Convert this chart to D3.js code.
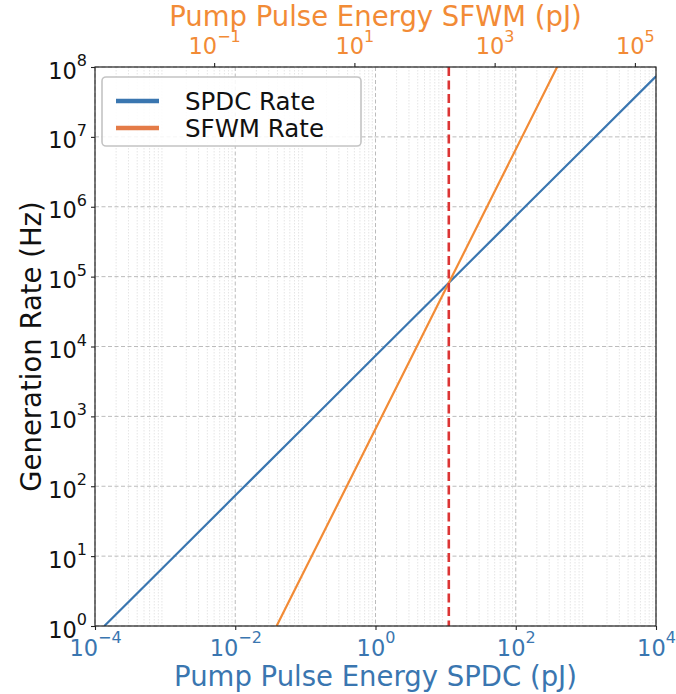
<!DOCTYPE html>
<html>
<head>
<meta charset="utf-8">
<script src="https://cdn.jsdelivr.net/npm/d3@7"></script>
<style>
  html, body { margin: 0; padding: 0; background: #ffffff; }
  svg { display: block; font-family: "DejaVu Sans", sans-serif; }
</style>
</head>
<body>
<svg id="chart" width="676" height="694"></svg>
<script>
// ---------------- data ----------------
const spdcEnergy = [1.36e-4, 1e-3, 1e-2, 1e-1, 1, 10, 100, 1000, 1e4];      // pJ (bottom axis)
const spdcRate   = [1, 7.35, 73.5, 735, 7350, 7.35e4, 7.35e5, 7.35e6, 7.35e7]; // Hz
const sfwmEnergy = [0.778, 1, 10, 100, 1000, 7780];                          // pJ (top axis)
const sfwmRate   = [1, 1.65, 165, 1.65e4, 1.65e6, 1e8];                      // Hz
const crossingEnergy = [11.1];                                               // pJ (bottom axis)
const bottomTicks = [-4, -2, 0, 2, 4];       // exponents
const topTicks    = [-1, 1, 3, 5];
const leftTicks   = [0, 1, 2, 3, 4, 5, 6, 7, 8];
const xDomain  = [1e-4, 1e4];
const x2Domain = [2e-3, 2e5];
const yDomain  = [1, 1e8];
const seriesNames = ["SPDC Rate", "SFWM Rate"];
const labels = {
  bottom: "Pump Pulse Energy SPDC (pJ)",
  top: "Pump Pulse Energy SFWM (pJ)",
  left: "Generation Rate (Hz)"
};

// ---------------- style ----------------
const BLUE = "#3a76b0", ORANGE = "#f28b36", ORANGE_LEG = "#e47b47", RED = "#dc3535";
const L = 95, R = 656, T = 67, B = 626;
const svg = d3.select("#chart");

const x  = d3.scaleLog().domain(xDomain).range([L, R]);
const x2 = d3.scaleLog().domain(x2Domain).range([L, R]);
const y  = d3.scaleLog().domain(yDomain).range([B, T]);

const minus = e => (e < 0 ? "\u2212" + Math.abs(e) : String(e));

// clip
svg.append("defs").append("clipPath").attr("id", "plotclip")
  .append("rect").attr("x", L).attr("y", T).attr("width", R - L).attr("height", B - T);

// ---------------- grid ----------------
const grid = svg.append("g");
const minorX = [];
for (let k = -4; k < 4; k++) for (let m = 2; m <= 9; m++) minorX.push(m * Math.pow(10, k));
grid.selectAll("line.minx").data(minorX).join("line")
  .attr("x1", d => x(d)).attr("x2", d => x(d)).attr("y1", T).attr("y2", B)
  .attr("stroke", "#dedede").attr("stroke-width", 0.8).attr("stroke-dasharray", "1.5,1.5");
grid.selectAll("line.majx").data(bottomTicks).join("line")
  .attr("x1", d => x(Math.pow(10, d))).attr("x2", d => x(Math.pow(10, d)))
  .attr("y1", T).attr("y2", B)
  .attr("stroke", "#b4b4b4").attr("stroke-width", 0.9).attr("stroke-dasharray", "4,2.5");
grid.selectAll("line.majy").data(leftTicks).join("line")
  .attr("y1", d => y(Math.pow(10, d))).attr("y2", d => y(Math.pow(10, d)))
  .attr("x1", L).attr("x2", R)
  .attr("stroke", "#b4b4b4").attr("stroke-width", 0.9).attr("stroke-dasharray", "4,2.5");

// ---------------- lines ----------------
const plot = svg.append("g").attr("clip-path", "url(#plotclip)");
const spdcPts = spdcEnergy.map((e, i) => [e, spdcRate[i]]);
const sfwmPts = sfwmEnergy.map((e, i) => [e, sfwmRate[i]]);

plot.append("path").datum(spdcPts)
  .attr("d", d3.line().x(d => x(d[0])).y(d => y(d[1])))
  .attr("fill", "none").attr("stroke", BLUE).attr("stroke-width", 2.2);
plot.append("path").datum(sfwmPts)
  .attr("d", d3.line().x(d => x2(d[0])).y(d => y(d[1])))
  .attr("fill", "none").attr("stroke", ORANGE).attr("stroke-width", 2.2);
plot.selectAll("line.cross").data(crossingEnergy).join("line")
  .attr("x1", d => x(d)).attr("x2", d => x(d)).attr("y1", T).attr("y2", B)
  .attr("stroke", RED).attr("stroke-width", 2.6).attr("stroke-dasharray", "9,4.5");

// ---------------- axes ----------------
function supLabels(sel, color) {
  sel.attr("font-size", null).attr("font-family", null);
  sel.selectAll(".tick text").each(function (d) {
    const t = d3.select(this);
    const e = Math.round(Math.log10(d));
    t.text(null).attr("fill", color)
      .style("font-family", "DejaVu Sans").style("font-size", "22.5px");
    t.append("tspan").text("10");
    t.append("tspan").attr("dy", "-12.5").style("font-size", "16px").text(minus(e));
  });
  sel.select(".domain").remove();
  sel.selectAll(".tick line").attr("stroke", "#222").attr("stroke-width", 1.1);
}

const gB = svg.append("g").attr("transform", `translate(0,${B})`)
  .call(d3.axisBottom(x).tickValues(bottomTicks.map(e => Math.pow(10, e))).tickSize(4).tickPadding(3));
supLabels(gB, BLUE);
gB.selectAll(".tick text").attr("y", null).attr("dy", null).attr("transform", "translate(0,29.5)")
  .attr("text-anchor", "middle");

const gT = svg.append("g").attr("transform", `translate(0,${T})`)
  .call(d3.axisTop(x2).tickValues(topTicks.map(e => Math.pow(10, e))).tickSize(4).tickPadding(3));
supLabels(gT, ORANGE);
gT.selectAll(".tick text").attr("y", null).attr("dy", null).attr("transform", "translate(0,-13)")
  .attr("text-anchor", "middle");

const gL = svg.append("g").attr("transform", `translate(${L},0)`)
  .call(d3.axisLeft(y).tickValues(leftTicks.map(e => Math.pow(10, e))).tickSize(4).tickPadding(3));
supLabels(gL, "#111");
gL.selectAll(".tick text").attr("x", null).attr("dy", null).attr("transform", "translate(-8,11)")
  .attr("text-anchor", "end");

// spines
svg.append("rect").attr("x", L).attr("y", T).attr("width", R - L).attr("height", B - T)
  .attr("fill", "none").attr("stroke", "#222").attr("stroke-width", 1.2);

// ---------------- axis labels ----------------
svg.append("text").attr("x", (L + R) / 2).attr("y", 686).attr("text-anchor", "middle")
  .attr("fill", BLUE).style("font-size", "27.5px").text(labels.bottom);
svg.append("text").attr("x", (L + R) / 2).attr("y", 25.5).attr("text-anchor", "middle")
  .attr("fill", ORANGE).style("font-size", "27.5px").text(labels.top);
svg.append("text").attr("transform", `translate(41,${(T + B) / 2}) rotate(-90)`)
  .attr("text-anchor", "middle").attr("fill", "#111").style("font-size", "27.5px").text(labels.left);

// ---------------- legend ----------------
const leg = svg.append("g");
leg.append("rect").attr("x", 102).attr("y", 77).attr("width", 259).attr("height", 69).attr("rx", 4)
  .attr("fill", "white").attr("fill-opacity", 0.85).attr("stroke", "#c4c4c4").attr("stroke-width", 1.6);
const legColors = [BLUE, ORANGE_LEG];
seriesNames.forEach((name, i) => {
  const cy = 101 + i * 27;
  leg.append("line").attr("x1", 116).attr("x2", 159).attr("y1", cy).attr("y2", cy)
    .attr("stroke", legColors[i]).attr("stroke-width", 4.5);
  leg.append("text").attr("x", 185).attr("y", cy + 8.7).attr("fill", "#111")
    .style("font-size", "24.5px").text(name);
});
</script>
</body>
</html>
